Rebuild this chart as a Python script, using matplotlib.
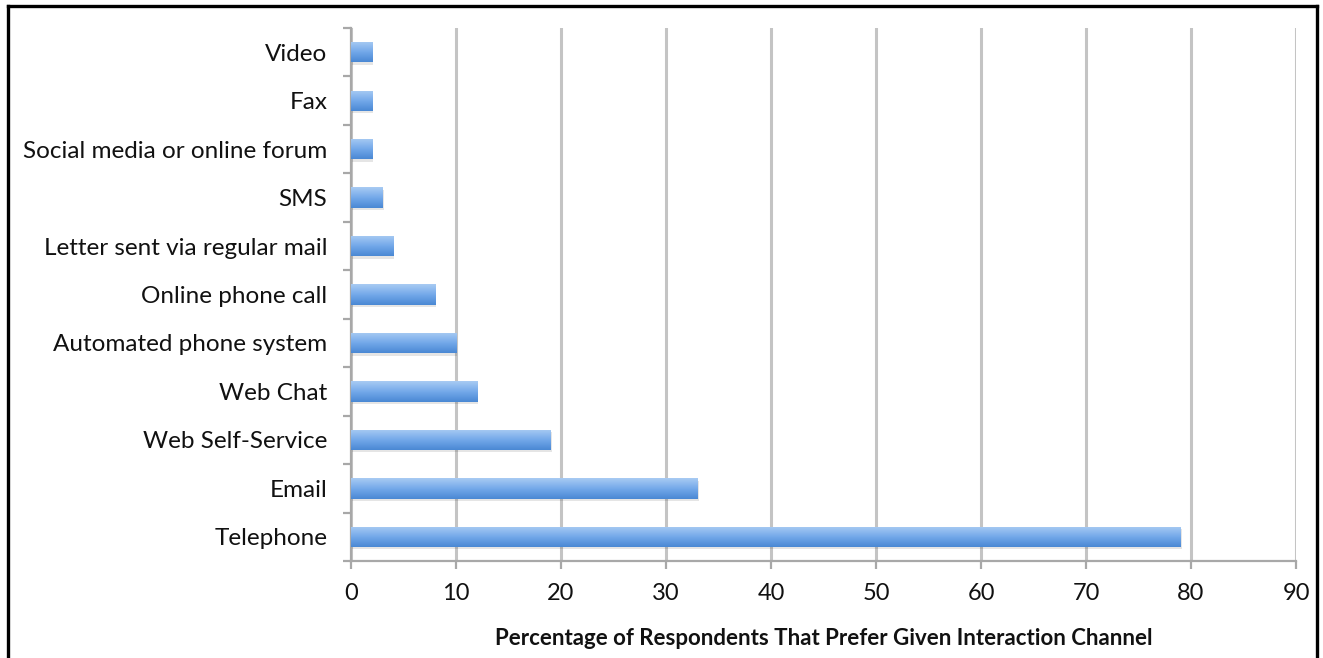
import matplotlib
matplotlib.use('Agg')
import matplotlib.pyplot as plt
import numpy as np
from matplotlib.patches import Rectangle

# 데이터
channels = ['Video', 'Fax', 'Social media or online forum', 'SMS',
            'Letter sent via regular mail', 'Online phone call',
            'Automated phone system', 'Web Chat', 'Web Self-Service',
            'Email', 'Telephone']
percent = [2, 2, 2, 3, 4, 8, 10, 12, 19, 33, 79]
xticks = [0, 10, 20, 30, 40, 50, 60, 70, 80, 90]
xlabel = 'Percentage of Respondents That Prefer Given Interaction Channel'

plt.rcParams['font.family'] = ['Lato', 'DejaVu Sans']
textcol = '#111111'
gridcol = '#c4c4c4'

fig = plt.figure(figsize=(13.23, 6.58), dpi=100)
ax = fig.add_axes([0.2653, 0.1474, 0.9796 - 0.2653, 0.9574 - 0.1474])

# 위에서부터 Video ... 아래가 Telephone
y = np.arange(len(channels))[::-1]
bars = ax.barh(y, percent, height=0.42, color='#6aa2e6', zorder=3)

# 그라데이션
grad = np.linspace(0, 1, 64).reshape(-1, 1)
cmap = matplotlib.colors.LinearSegmentedColormap.from_list(
    'g', ['#a8cbf3', '#74a9ea', '#4a88d4'])
for b in bars:
    x0, y0 = b.get_x(), b.get_y()
    w, h = b.get_width(), b.get_height()
    # 그림자
    sh = Rectangle((x0 + 0.1, y0 - 0.05), w, h, color='#000000', alpha=0.10,
                   zorder=2, lw=0)
    ax.add_patch(sh)
    im = ax.imshow(grad, extent=[x0, x0 + w, y0 + h, y0], cmap=cmap,
                   aspect='auto', zorder=4, origin='lower')
    im.set_clip_path(b)

ax.set_xlim(0, 90)
ax.set_ylim(-0.5, len(channels) - 0.5)
ax.set_xticks(xticks)
ax.set_xticklabels([str(v) for v in xticks])
ax.set_yticks(y)
ax.set_yticklabels(channels)
ax.set_yticks(np.arange(-0.5, len(channels), 1.0), minor=True)

ax.xaxis.grid(True, color=gridcol, linewidth=2.2, zorder=0)
ax.set_axisbelow(True)

for s in ['top', 'right']:
    ax.spines[s].set_visible(False)
for s in ['left', 'bottom']:
    ax.spines[s].set_color('#a8a8a8')
    ax.spines[s].set_linewidth(1.6)

ax.tick_params(axis='y', which='major', length=0, pad=17, labelsize=17.5,
               labelcolor=textcol)
ax.tick_params(axis='y', which='minor', length=6, width=1.6, color='#a8a8a8')
ax.tick_params(axis='x', which='major', length=6, width=1.6, color='#a8a8a8',
               pad=10, labelsize=17, labelcolor=textcol)

ax.set_xlabel(xlabel, fontsize=16, fontweight='bold', color=textcol, labelpad=17)

# 테두리
fig.add_artist(plt.Line2D([0.0060, 0.0060], [0.0, 0.9916], color='black',
                          lw=2.4, transform=fig.transFigure))
fig.add_artist(plt.Line2D([0.0060, 0.9955], [0.9916, 0.9916], color='black',
                          lw=2.4, transform=fig.transFigure))
fig.add_artist(plt.Line2D([0.9955, 0.9955], [0.0, 0.9916], color='black',
                          lw=2.4, transform=fig.transFigure))

plt.savefig('out.png', dpi=100)
